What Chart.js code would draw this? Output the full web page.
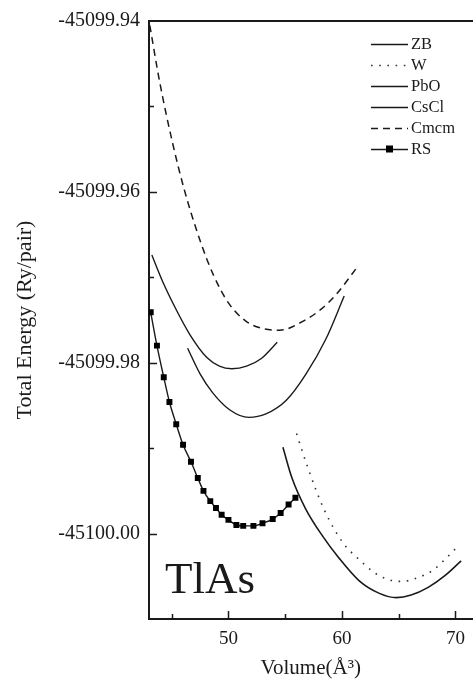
<!DOCTYPE html>
<html><head><meta charset="utf-8">
<script src="https://cdn.jsdelivr.net/npm/chart.js@4/dist/chart.umd.min.js"></script>
<style>html,body{margin:0;padding:0;background:#fff;overflow:hidden}canvas{display:block}</style>
</head><body>
<canvas id="c" width="474" height="688"></canvas>
<script>
// ---- data ----
const seriesNames = ['ZB', 'W', 'PbO', 'CsCl', 'Cmcm', 'RS'];

const zbVolume = [54.8, 55.6, 56.8, 58.3, 59.7, 61.5, 63.3, 64.8, 66.1, 67.6, 69.1, 70.5];
const zbEnergy = [-45099.9899, -45099.9935, -45099.9971, -45100.0003, -45100.0028, -45100.0055, -45100.0070, -45100.0075, -45100.0072, -45100.0063, -45100.0049, -45100.0032];

const wVolume = [56.0, 57.0, 58.4, 60.1, 61.4, 63.0, 64.4, 65.3, 66.6, 68.0, 69.4, 70.2];
const wEnergy = [-45099.9883, -45099.9923, -45099.9971, -45100.0011, -45100.0029, -45100.0047, -45100.0055, -45100.0056, -45100.0052, -45100.0043, -45100.0026, -45100.0015];

const pboVolume = [46.4, 47.5, 48.6, 50.1, 51.8, 53.3, 55.1, 56.8, 58.6, 60.2];
const pboEnergy = [-45099.9783, -45099.9813, -45099.9835, -45099.9855, -45099.9864, -45099.9860, -45099.9844, -45099.9814, -45099.9772, -45099.9722];

const csclVolume = [43.25, 44.2, 45.4, 46.6, 48.1, 49.2, 50.3, 51.6, 52.9, 54.3];
const csclEnergy = [-45099.9674, -45099.9705, -45099.9738, -45099.9767, -45099.9794, -45099.9804, -45099.9807, -45099.9804, -45099.9795, -45099.9776];

const cmcmVolume = [43.07, 43.95, 45.1, 46.1, 47.5, 48.7, 50.0, 51.5, 53.0, 54.5, 56.5, 58.2, 59.5, 61.3];
const cmcmEnergy = [-45099.9405, -45099.9472, -45099.9544, -45099.9597, -45099.9657, -45099.9698, -45099.9730, -45099.9751, -45099.9760, -45099.9762, -45099.9752, -45099.9737, -45099.9720, -45099.9689];

const rsVolume = [43.15, 43.7, 44.3, 44.8, 45.4, 46.0, 46.7, 47.3, 47.8, 48.4, 48.9, 49.4, 50.0, 50.7, 51.3, 52.2, 53.0, 53.9, 54.6, 55.3, 55.9];
const rsEnergy = [-45099.9741, -45099.9780, -45099.9817, -45099.9846, -45099.9872, -45099.9896, -45099.9916, -45099.9935, -45099.9950, -45099.9962, -45099.9970, -45099.9978, -45099.9984, -45099.9990, -45099.9991, -45099.9991, -45099.9988, -45099.9983, -45099.9976, -45099.9966, -45099.9958];

const xTickLabels = ['50', '60', '70'];
const yTickLabels = ['-45100.00', '-45099.98', '-45099.96', '-45099.94'];
const xTitle = 'Volume(Å³)';
const yTitle = 'Total Energy (Ry/pair)';
const compoundLabel = 'TlAs';

// ---- styling ----
const FONT = "'Liberation Serif','Times New Roman',serif";
const INK = '#1a1a1a';
const pts = (xs, ys) => xs.map((v, i) => ({x: v, y: ys[i]}));

const datasets = [
  {label: seriesNames[0], data: pts(zbVolume, zbEnergy), borderColor: INK, borderWidth: 1.6},
  {label: seriesNames[1], data: pts(wVolume, wEnergy), borderColor: '#333', borderWidth: 1.6, borderDash: [1.6, 6.6]},
  {label: seriesNames[2], data: pts(pboVolume, pboEnergy), borderColor: INK, borderWidth: 1.4},
  {label: seriesNames[3], data: pts(csclVolume, csclEnergy), borderColor: INK, borderWidth: 1.4},
  {label: seriesNames[4], data: pts(cmcmVolume, cmcmEnergy), borderColor: INK, borderWidth: 1.5, borderDash: [7, 5]},
  {label: seriesNames[5], data: pts(rsVolume, rsEnergy), borderColor: INK, borderWidth: 1.4,
   pointStyle: 'rect', pointRadius: 4.2, pointBackgroundColor: '#000', pointBorderColor: '#000', pointBorderWidth: 0}
];

const inwardTicks = {
  id: 'inwardTicks',
  afterDraw(chart) {
    const {ctx, chartArea: a, scales: {x, y}} = chart;
    ctx.save();
    ctx.strokeStyle = INK;
    ctx.lineWidth = 1.5;
    x.ticks.forEach(t => {
      const k = Math.round(t.value / 5);
      if (Math.abs(t.value - k * 5) > 1e-6) return;
      const px = Math.round(x.getPixelForValue(t.value)) + 0.5;
      const len = k % 2 === 0 ? 8 : 5;
      ctx.beginPath(); ctx.moveTo(px, a.bottom); ctx.lineTo(px, a.bottom - len); ctx.stroke();
    });
    y.ticks.forEach(t => {
      const k = Math.round(t.value * 100);
      if (Math.abs(t.value * 100 - k) > 1e-3) return;
      const py = Math.round(y.getPixelForValue(t.value)) + 0.5;
      if (py < a.top + 2 || py > a.bottom - 2) return;
      const len = k % 2 === 0 ? 8 : 5;
      ctx.beginPath(); ctx.moveTo(a.left, py); ctx.lineTo(a.left + len, py); ctx.stroke();
    });
    ctx.restore();
  }
};

const innerLegend = {
  id: 'innerLegend',
  afterDraw(chart) {
    const {ctx} = chart;
    ctx.save();
    ctx.font = '16.5px ' + FONT;
    ctx.textBaseline = 'middle';
    ctx.fillStyle = INK;
    chart.data.datasets.forEach((ds, i) => {
      const yy = 44 + i * 21;
      ctx.strokeStyle = ds.borderColor;
      ctx.lineWidth = ds.borderWidth;
      ctx.setLineDash(ds.borderDash || []);
      ctx.beginPath(); ctx.moveTo(371, yy + 0.5); ctx.lineTo(408, yy + 0.5); ctx.stroke();
      ctx.setLineDash([]);
      if (ds.pointStyle === 'rect') {
        ctx.fillStyle = '#000';
        ctx.fillRect(386, yy - 3.5, 7, 7);
        ctx.fillStyle = INK;
      }
      ctx.fillText(ds.label, 411, yy + 1);
    });
    ctx.font = '45px ' + FONT;
    ctx.textBaseline = 'alphabetic';
    ctx.fillText(compoundLabel, 165, 593);
    ctx.restore();
  }
};

new Chart(document.getElementById('c').getContext('2d'), {
  type: 'line',
  data: {datasets},
  options: {
    responsive: false,
    animation: false,
    devicePixelRatio: 1,
    layout: {padding: 0, autoPadding: false},
    plugins: {legend: {display: false}, tooltip: {enabled: false}},
    elements: {point: {radius: 0, hoverRadius: 0}, line: {cubicInterpolationMode: 'monotone', fill: false}},
    scales: {
      x: {
        type: 'linear', position: 'bottom', min: 43, max: 71.5,
        afterFit(s) { s.height = 69; },
        grid: {display: false, drawTicks: false},
        border: {display: true, width: 2, color: INK},
        ticks: {
          stepSize: 5, includeBounds: false, padding: 9, autoSkip: false, maxRotation: 0, color: INK,
          font: {family: FONT, size: 19},
          callback(v) { const s = String(Math.round(v)); return (Math.abs(v - Math.round(v)) < 1e-6 && xTickLabels.includes(s)) ? s : ''; }
        },
        title: {display: true, text: xTitle, color: INK, font: {family: FONT, size: 21}, padding: {top: 0, bottom: 7}}
      },
      x2: {
        type: 'linear', position: 'top', min: 43, max: 71.5,
        afterFit(s) { s.height = 17; },
        grid: {display: false, drawTicks: false},
        border: {display: true, width: 2, color: INK},
        ticks: {display: false}
      },
      y: {
        type: 'linear', position: 'left', min: -45100.01, max: -45099.94,
        afterFit(s) { s.width = 149; },
        grid: {display: false, drawTicks: false},
        border: {display: true, width: 2, color: INK},
        ticks: {
          stepSize: 0.01, padding: 9, autoSkip: false, color: INK,
          font: {family: FONT, size: 20},
          callback(v) { const s = v.toFixed(2); return yTickLabels.includes(s) ? s : ''; }
        },
        title: {display: true, text: yTitle, color: INK, font: {family: FONT, size: 22}, padding: {top: 12, bottom: 0}}
      }
    }
  },
  plugins: [inwardTicks, innerLegend]
});
</script>
</body></html>
